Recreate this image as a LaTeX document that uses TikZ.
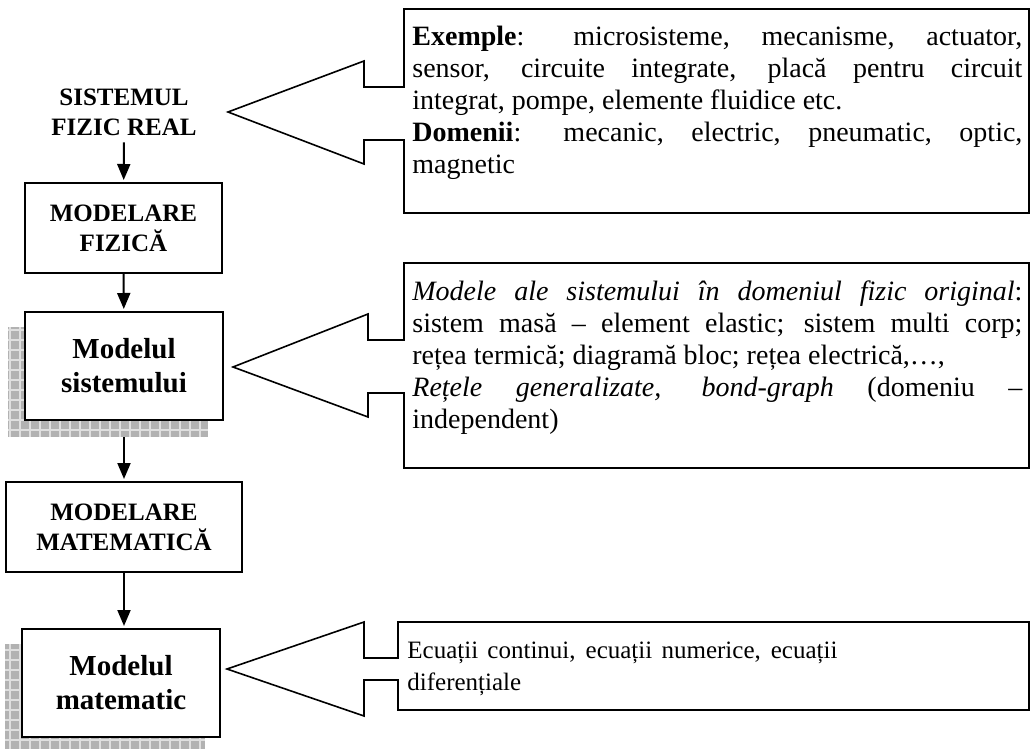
\documentclass[tikz,border=0pt]{standalone}
\usepackage{fontspec}
\setmainfont{Liberation Serif}
\usetikzlibrary{arrows.meta,backgrounds}

\tikzset{
  stepbox/.style={draw, line width=1pt, fill=white, align=center, font=\bfseries\fontsize{12.5}{15}\selectfont},
  modelbox/.style={stepbox, minimum width=99pt, minimum height=54pt, font=\bfseries\fontsize{14.5}{17}\selectfont},
  flow/.style={-{Triangle[width=6.5pt,length=8pt]}, line width=1pt, shorten >=1pt},
  callout/.style={draw, line width=0.8pt, line join=miter},
  note/.style={inner sep=0pt, anchor=north west, align=justify, font=\fontsize{14}{16}\selectfont},
  shade/.style={fill=gray!60},
}

\begin{document}
\begin{tikzpicture}[x=0.5pt,y=-0.5pt]
\useasboundingbox (0,0) rectangle (1035,749);
\clip (0,0) rectangle (1035,749);

% left column: the modelling steps
\node[align=center, font=\bfseries\fontsize{12.5}{15}\selectfont] (real) at (124,112) {SISTEMUL\\FIZIC REAL};
\node[stepbox, minimum width=98.5pt, minimum height=45pt] (fizica) at (123.5,228) {MODELARE\\FIZICĂ};
\node[modelbox] (sistem) at (124,366) {Modelul\\sistemului};
\node[stepbox, minimum width=118pt, minimum height=45pt] (matem) at (124,527) {MODELARE\\MATEMATICĂ};
\node[modelbox] (matematic) at (121,683) {Modelul\\matematic};

% shadows behind the two model boxes
\begin{scope}[on background layer]
\foreach \b in {sistem,matematic}{
  \begin{scope}
    \clip ([shift={(-16,16)}]\b.south west) rectangle ([shift={(-16,16)}]\b.north east);
    \fill[shade] ([shift={(-16,16)}]\b.south west) rectangle ([shift={(-16,16)}]\b.north east);
    \draw[gray!25, line width=0.6pt, step=5pt] ([shift={(-16,16)}]\b.south west) grid ([shift={(-16,16)}]\b.north east);
  \end{scope}
}
\end{scope}

\draw[flow] (real) -- (fizica);
\draw[flow] (fizica) -- (sistem);
\draw[flow, shorten <=8pt] (sistem) -- (matem);
\draw[flow] (matem.south) -- (matem.south |- matematic.north);

% callouts
\draw[callout] (404,9) -- (1029,9) -- (1029,213) -- (404,213) -- (404,140) -- (364,140) -- (364,164) -- (228,112)
  -- (364,61) -- (364,87) -- (404,87) -- cycle;
\node[note, text width=305pt] (exemple) at (412,26)
  {\textbf{Exemple}: microsisteme, mecanisme, actuator,\linebreak
   sensor, circuite integrate, placă pentru circuit\linebreak
   integrat, pompe, elemente fluidice etc.\\
   \textbf{Domenii}: mecanic, electric, pneumatic, optic,\linebreak
   magnetic};

\draw[callout] (404,263) -- (1029,263) -- (1029,468) -- (404,468) -- (404,393) -- (368,393) -- (368,417) -- (233,367)
  -- (368,314) -- (368,340) -- (404,340) -- cycle;
\node[note, text width=305pt] (modele) at (412,280)
  {\textit{Modele ale sistemului în domeniul fizic original}:\linebreak
   sistem masă – element elastic; sistem multi corp;\linebreak
   rețea termică; diagramă bloc; rețea electrică,…,\\
   \textit{Rețele generalizate, bond-graph} (domeniu –\linebreak
   independent)};

\draw[callout] (398,622) -- (1029,622) -- (1029,710) -- (398,710) -- (398,680) -- (364,680) -- (364,716) -- (227,669)
  -- (364,622) -- (364,658) -- (398,658) -- cycle;
\node[note, text width=215pt, font=\fontsize{12.5}{16}\selectfont] (ecuatii) at (407,642)
  {Ecuații continui, ecuații numerice, ecuații\linebreak
   diferențiale};
\end{tikzpicture}
\end{document}
